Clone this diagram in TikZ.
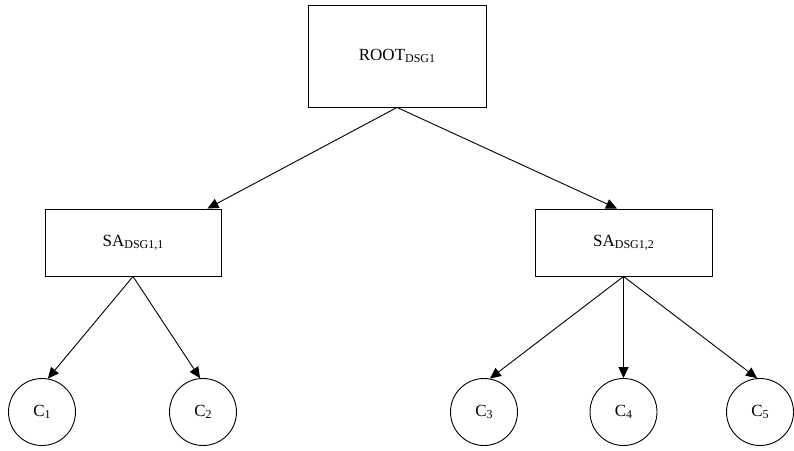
\documentclass[tikz,border=0pt]{standalone}
\usepackage{fontspec}
\setmainfont{Liberation Serif}
\usetikzlibrary{arrows.meta,calc}

% lowered, smaller subscript text as used in the labels
\newcommand{\lowsub}[1]{\raisebox{-0.3ex}{\fontsize{12}{14}\selectfont #1}}

\begin{document}
\begin{tikzpicture}[x=1pt,y=-1pt,
  every node/.style={font=\fontsize{17}{20}\selectfont, inner sep=0pt},
  boxnode/.style={draw, line width=0.9pt, rectangle},
  leafnode/.style={draw, line width=0.9pt, circle, minimum size=67pt},
  link/.style={line width=0.9pt, -{Triangle[length=11pt,width=10pt]}}
]
\useasboundingbox (0,0) rectangle (794,450);

% tree nodes
\node[boxnode, minimum width=178pt, minimum height=102pt] (root) at (397,56) {ROOT\lowsub{DSG1}};
\node[boxnode, minimum width=176pt, minimum height=67pt] (sa1) at (133,242.5) {SA\lowsub{DSG1,1}};
\node[boxnode, minimum width=177pt, minimum height=67pt] (sa2) at (623.5,242.5) {SA\lowsub{DSG1,2}};

\node[leafnode] (c1) at (42,412) {C\lowsub{1}};
\node[leafnode] (c2) at (203,412) {C\lowsub{2}};
\node[leafnode] (c3) at (484,412) {C\lowsub{3}};
\node[leafnode] (c4) at (623.5,412) {C\lowsub{4}};
\node[leafnode] (c5) at (760,412) {C\lowsub{5}};

% arrow targets on the tops of the second-level boxes
\coordinate (t1) at ($(sa1.north east)+(-14,0)$);
\coordinate (t2) at ($(sa2.north)+(-6.5,0)$);

% connectors
\draw[link] (root.south) -- (t1);
\draw[link] (root.south) -- (t2);
\draw[link] (sa1.south) -- (c1.80);
\draw[link] (sa1.south) -- (c2.95);
\draw[link] (sa2.south) -- (c3.80);
\draw[link] (sa2.south) -- (c4.north);
\draw[link] (sa2.south) -- (c5.95);
\end{tikzpicture}
\end{document}
